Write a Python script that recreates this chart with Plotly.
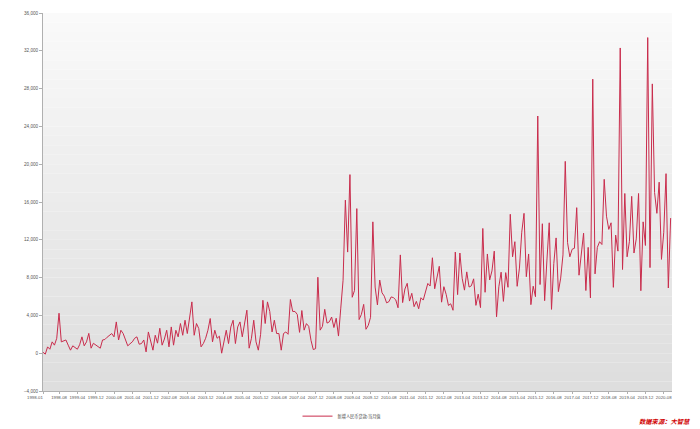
import plotly.graph_objects as go

# ---- data (新增人民币贷款:当月值, 亿元), monthly from 1998-01 to 2020-11 ----
start_year, start_month, n_months = 1998, 1, 275
months = []
y, m = start_year, start_month
for _ in range(n_months):
    months.append(f"{y}-{m:02d}")
    m += 1
    if m > 12:
        m = 1
        y += 1

v1998_2001 = [100, -100, 670, 420, 1200, 850, 1580, 4230, 1200, 1300, 1400, 850,
              320, 780, 560, 420, 900, 1730, 780, 1200, 2100, 530, 1050, 850,
              700, 530, 1400, 1450, 1690, 1900, 2080, 1730, 3310, 1400, 2430, 2080,
              1400, 780, 1000, 1200, 1580, 1730, 950, 1020, 1400, 140, 2250, 1200]
v2002_2005 = [320, 1900, 1060, 2640, 850, 1500, 2430, 670, 2780, 850, 2430, 1730,
              3140, 1900, 3490, 2080, 3670, 5430, 1900, 3140, 2610, 670, 1020, 1580,
              2430, 3670, 1200, 2430, 1580, 1800, 0, 1400, 2430, 1020, 2780, 3490,
              1020, 2780, 3310, 1730, 2960, 4550, 530, 1580, 3490, 1200, 320, 2000]
v2006 = [5600, 3140, 5430, 4410, 2250, 3490, 2080, 2080, 320, 2080, 2250, 2000]
v2007 = [5684, 4418, 4417, 4105, 2205, 4514, 2439, 3130, 2845, 1361, 383, 485]
v2008 = [8036, 2437, 2834, 4645, 3185, 3320, 3828, 2715, 3702, 1814, 4769, 7718]
v2009 = [16200, 10700, 18900, 5918, 6645, 15300, 3559, 4104, 5167, 2530, 2948, 3798]
v2010 = [13900, 7000, 5107, 7740, 6394, 6034, 5328, 5452, 5955, 5877, 5640, 4807]
v2011 = [10400, 5356, 6794, 7396, 5516, 6339, 4925, 5485, 4700, 5868, 5622, 6405]
v2012 = [7381, 7107, 10100, 6818, 7932, 9198, 5401, 7039, 6232, 5053, 5229, 4543]
v2013 = [10700, 6200, 10600, 7929, 6674, 8605, 6999, 7128, 7870, 5061, 6246, 4825]
v2014 = [13200, 6445, 10500, 7747, 8708, 10800, 3852, 7025, 8572, 5483, 8527, 6973]
v2015 = [14700, 10200, 11800, 7079, 9008, 12800, 14800, 8096, 10500, 5136, 7089, 5978]
v2016 = [25100, 7266, 13700, 5556, 9855, 13800, 4636, 9487, 12200, 6513, 7946, 10400]
v2017 = [20300, 11700, 10200, 11000, 11100, 15400, 8255, 10900, 12700, 6632, 11200, 5844]
v2018 = [29000, 8393, 11200, 11800, 11500, 18400, 14500, 13100, 13800, 6970, 12500, 10800]
v2019 = [32300, 8858, 16900, 10200, 11800, 16600, 10600, 12100, 16900, 6613, 13900, 11400]
v2020 = [33400, 9057, 28500, 17000, 14800, 18100, 9927, 12800, 19000, 6898, 14300]

values = (v1998_2001 + v2002_2005 + v2006 + v2007 + v2008 + v2009 + v2010 + v2011
          + v2012 + v2013 + v2014 + v2015 + v2016 + v2017 + v2018 + v2019 + v2020)

tick_labels = ["1998-01", "1998-08", "1999-04", "1999-12", "2000-08", "2001-04", "2001-12",
               "2002-08", "2003-04", "2003-12", "2004-08", "2005-04", "2005-12", "2006-08",
               "2007-04", "2007-12", "2008-08", "2009-04", "2009-12", "2010-08", "2011-04",
               "2011-12", "2012-08", "2013-04", "2013-12", "2014-08", "2015-04", "2015-12",
               "2016-08", "2017-04", "2017-12", "2018-08", "2019-04", "2019-12", "2020-08"]
y_ticks = [-4000, 0, 4000, 8000, 12000, 16000, 20000, 24000, 28000, 32000, 36000]

series_name = "新增人民币贷款:当月值"
source_text = "数据来源：大智慧"

# first label is drawn just left of its tick in the reference -> separate text
tick_text = [""] + tick_labels[1:]

fig = go.Figure()
fig.add_trace(go.Scatter(x=months[:len(values)], y=values, mode="lines", name=series_name,
                         line=dict(color="#c92c4c", width=1)))

# gradient background of plot area
nb = 40
for k in range(nb):
    t = k / (nb - 1)
    c = int(250 - (250 - 222) * t)
    fig.add_shape(type="rect", xref="paper", yref="paper",
                  x0=0, x1=1, y0=1 - (k + 1) / nb, y1=1 - k / nb,
                  fillcolor=f"rgb({c},{c},{c})", line=dict(width=0), layer="below")

fig.add_annotation(text=tick_labels[0], xref="paper", yref="paper", x=-0.0127, y=-0.0079,
                   xanchor="center", yanchor="top", showarrow=False, borderpad=0,
                   font=dict(family="Liberation Sans", size=4.3, color="#555555"))

fig.add_annotation(text=source_text, xref="paper", yref="paper", x=1.0334, y=-0.0979,
                   xanchor="right", yanchor="bottom", showarrow=False,
                   font=dict(family="Noto Sans CJK SC", size=6.3, color="#d00000",
                             weight="bold", style="italic"))

fig.update_layout(
    width=700, height=429,
    margin=dict(l=43, r=28, t=13, b=38),
    paper_bgcolor="white", plot_bgcolor="rgba(0,0,0,0)",
    font=dict(family="Liberation Sans, Noto Sans CJK SC", size=5, color="#555555"),
    showlegend=True,
    legend=dict(orientation="h", xref="container", yref="container",
                x=0.425, y=0.03, xanchor="left", yanchor="middle",
                font=dict(family="Noto Sans CJK SC", size=4.2, color="#444444"),
                bgcolor="rgba(0,0,0,0)", itemwidth=30),
    xaxis=dict(type="category", tickmode="array", tickvals=tick_labels, ticktext=tick_text,
               range=[0, 274.6], showgrid=False, zeroline=False, automargin=False,
               showline=True, linecolor="#b0b0b0", linewidth=1,
               ticks="outside", ticklen=2, tickcolor="#b0b0b0", tickangle=0,
               tickfont=dict(size=4.3, color="#555555")),
    yaxis=dict(range=[-4000, 36000], tickmode="array", tickvals=y_ticks, tickformat=",",
               showgrid=False, zeroline=False, automargin=False,
               showline=True, linecolor="#b0b0b0", linewidth=1,
               ticks="outside", ticklen=3, tickcolor="#b0b0b0",
               tickfont=dict(size=4.6, color="#555555")),
)

fig.write_html("out.html", config={"displayModeBar": False},
               post_script="document.body.style.margin='0px';")
